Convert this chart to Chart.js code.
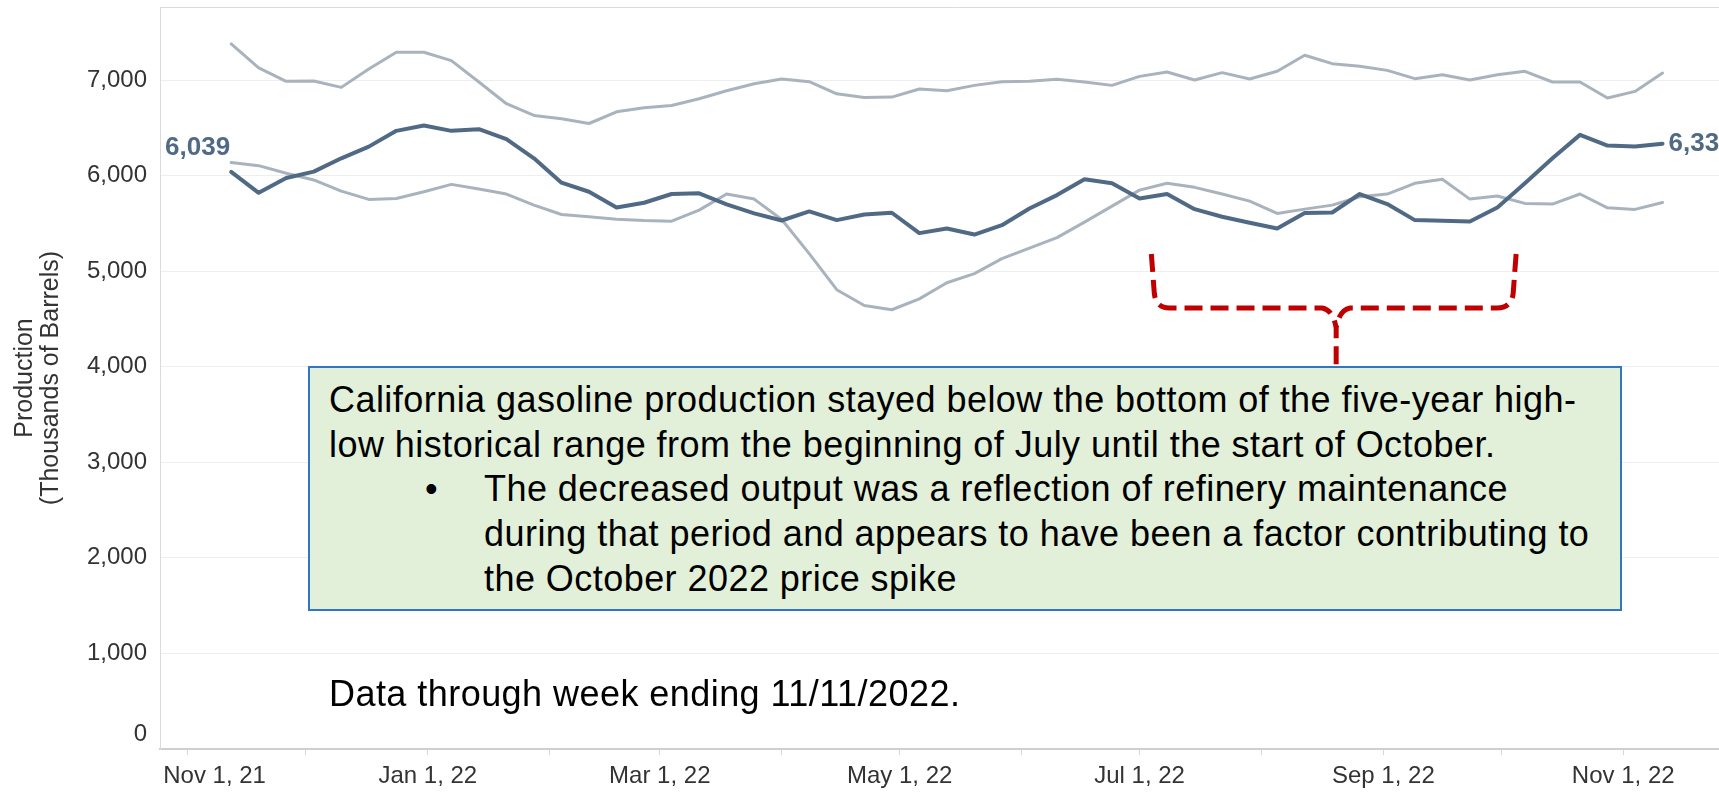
<!DOCTYPE html>
<html>
<head>
<meta charset="utf-8">
<title>California gasoline production</title>
<script src="https://cdn.jsdelivr.net/npm/chart.js@4.4.0/dist/chart.umd.min.js"></script>
<style>
  html, body { margin: 0; padding: 0; background: #fff; overflow: hidden; }
  #wrap { position: relative; width: 1760px; height: 792px; }
  #chart { position: absolute; left: 0; top: 0; }
  .note {
    position: absolute;
    font-family: "Liberation Sans", Arial, sans-serif;
    font-size: 36px;
    letter-spacing: 0.45px;
    line-height: 44.7px;
    color: #000;
    white-space: nowrap;
  }
  #box {
    left: 308px; top: 366px; width: 1314px; height: 245px;
    box-sizing: border-box;
    background: #e2f0d9;
    border: 2px solid #2f78c0;
    padding: 10px 0 0 19px;
  }
  #box .bullet { position: relative; padding-left: 155px; }
  #box .bullet span { position: absolute; left: 96px; top: 0; }
  #through { left: 329px; top: 672px; }
</style>
</head>
<body>
<div id="wrap">
  <canvas id="chart" width="1760" height="792"></canvas>
  <div id="box" class="note">
    <div>California gasoline production stayed below the bottom of the five-year high-</div>
    <div>low historical range from the beginning of July until the start of October.</div>
    <div class="bullet"><span>•</span>The decreased output was a reflection of refinery maintenance<br>during that period and appears to have been a factor contributing to<br>the October 2022 price spike</div>
  </div>
  <div id="through" class="note">Data through week ending 11/11/2022.</div>
</div>
<script>
// Semanas (viernes de cierre)
const weekEnding = [
  '2021-11-12', '2021-11-19', '2021-11-26', '2021-12-03', '2021-12-10', '2021-12-17', '2021-12-24', '2021-12-31',
  '2022-01-07', '2022-01-14', '2022-01-21', '2022-01-28', '2022-02-04', '2022-02-11', '2022-02-18', '2022-02-25',
  '2022-03-04', '2022-03-11', '2022-03-18', '2022-03-25', '2022-04-01', '2022-04-08', '2022-04-15', '2022-04-22',
  '2022-04-29', '2022-05-06', '2022-05-13', '2022-05-20', '2022-05-27', '2022-06-03', '2022-06-10', '2022-06-17',
  '2022-06-24', '2022-07-01', '2022-07-08', '2022-07-15', '2022-07-22', '2022-07-29', '2022-08-05', '2022-08-12',
  '2022-08-19', '2022-08-26', '2022-09-02', '2022-09-09', '2022-09-16', '2022-09-23', '2022-09-30', '2022-10-07',
  '2022-10-14', '2022-10-21', '2022-10-28', '2022-11-04', '2022-11-11'
];

// Producción semanal (miles de barriles)
const production2022 = [
  6039, 5820, 5974, 6041, 6181, 6303, 6468, 6524, 6468, 6486, 6381, 6181, 5926, 5831, 5667, 5716,
  5807, 5814, 5698, 5604, 5530, 5625, 5534, 5593, 5611, 5398, 5446, 5383, 5481, 5656, 5796, 5961,
  5919, 5761, 5807, 5649, 5569, 5506, 5446, 5608, 5614, 5807, 5702, 5534, 5527, 5520, 5667, 5919,
  6181, 6426, 6314, 6304, 6334
];
const fiveYearHigh = [
  7378, 7126, 6986, 6990, 6923, 7116, 7290, 7290, 7203, 6979, 6752, 6629, 6594, 6545, 6667, 6709,
  6734, 6804, 6888, 6961, 7010, 6982, 6856, 6818, 6821, 6906, 6888, 6944, 6982, 6986, 7007, 6979,
  6944, 7038, 7084, 7000, 7077, 7010, 7091, 7259, 7171, 7143, 7101, 7014, 7056, 7000, 7056, 7091,
  6979, 6979, 6811, 6881, 7073
];
const fiveYearLow = [
  6136, 6104, 6024, 5954, 5838, 5751, 5761, 5831, 5908, 5859, 5807, 5691, 5593, 5569, 5544, 5530,
  5523, 5639, 5807, 5754, 5541, 5184, 4806, 4641, 4596, 4710, 4879, 4974, 5131, 5240, 5351, 5513,
  5680, 5848, 5919, 5877, 5807, 5733, 5604, 5649, 5691, 5779, 5807, 5919, 5961, 5754, 5786, 5709,
  5702, 5807, 5663, 5646, 5719
];

// Marcas del eje X (una por mes, etiqueta cada dos)
const monthTicks = [
  '2021-11-01', '2021-12-01', '2022-01-01', '2022-02-01', '2022-03-01', '2022-04-01', '2022-05-01',
  '2022-06-01', '2022-07-01', '2022-08-01', '2022-09-01', '2022-10-01', '2022-11-01'
];
const monthLabels = [
  'Nov 1, 21', '', 'Jan 1, 22', '', 'Mar 1, 22', '', 'May 1, 22', '', 'Jul 1, 22', '', 'Sep 1, 22', '', 'Nov 1, 22'
];
const yTicks = [0, 1000, 2000, 3000, 4000, 5000, 6000, 7000];

// Llave roja de la nota (fechas y valores del eje)
const bracket = { start: '2022-07-04', end: '2022-10-04', mid: '2022-08-20', top: 5180, bar: 4615, tip: 4010 };

const darkColor = '#506a85';
const lightColor = '#a9b3be';
const FONT = '"Liberation Sans", Arial, sans-serif';

const origin = Date.UTC(2021, 10, 1);
const dayOf = s => (Date.parse(s + 'T00:00:00Z') - origin) / 86400000;
const fmt = v => v.toLocaleString('en-US');
const points = values => weekEnding.map((d, i) => ({ x: dayOf(d), y: values[i] }));

// Borde superior del área
const framePlugin = {
  id: 'frame',
  beforeDatasetsDraw(chart) {
    const { ctx, chartArea } = chart;
    ctx.save();
    ctx.strokeStyle = '#dadada';
    ctx.lineWidth = 1;
    ctx.beginPath();
    ctx.moveTo(chartArea.left, chartArea.top + 0.5);
    ctx.lineTo(chartArea.right, chartArea.top + 0.5);
    ctx.stroke();
    ctx.restore();
  }
};

// Etiquetas del primer y último valor
const endLabelsPlugin = {
  id: 'endLabels',
  afterDatasetsDraw(chart) {
    const ctx = chart.ctx;
    const pts = chart.getDatasetMeta(0).data;
    const first = pts[0];
    const last = pts[pts.length - 1];
    ctx.save();
    ctx.font = 'bold 26px ' + FONT;
    ctx.fillStyle = darkColor;
    ctx.textAlign = 'right';
    ctx.textBaseline = 'alphabetic';
    ctx.fillText(fmt(production2022[0]), first.x - 1, first.y - 17);
    ctx.textAlign = 'left';
    ctx.textBaseline = 'middle';
    ctx.fillText(fmt(production2022[production2022.length - 1]), last.x + 6, last.y);
    ctx.restore();
  }
};

// Llave discontinua sobre julio-septiembre
const bracketPlugin = {
  id: 'bracket',
  afterDatasetsDraw(chart) {
    const { ctx, scales } = chart;
    const xL = scales.x.getPixelForValue(dayOf(bracket.start));
    const xR = scales.x.getPixelForValue(dayOf(bracket.end));
    const xM = scales.x.getPixelForValue(dayOf(bracket.mid));
    const yTop = scales.y.getPixelForValue(bracket.top);
    const yBar = scales.y.getPixelForValue(bracket.bar);
    const yTip = scales.y.getPixelForValue(bracket.tip);
    ctx.save();
    ctx.strokeStyle = '#c00000';
    ctx.lineWidth = 5;
    ctx.setLineDash([18, 8]);
    ctx.beginPath();
    ctx.moveTo(xL, yTop);
    ctx.lineTo(xL + 3, yBar - 14);
    ctx.quadraticCurveTo(xL + 5, yBar, xL + 18, yBar);
    ctx.lineTo(xM - 14, yBar);
    ctx.quadraticCurveTo(xM - 3, yBar + 2, xM, yBar + 20);
    ctx.lineTo(xM, yTip);
    ctx.moveTo(xR + 3, yTop);
    ctx.lineTo(xR, yBar - 14);
    ctx.quadraticCurveTo(xR - 2, yBar, xR - 16, yBar);
    ctx.lineTo(xM + 14, yBar);
    ctx.quadraticCurveTo(xM + 3, yBar + 2, xM, yBar + 20);
    ctx.stroke();
    ctx.restore();
  }
};

Chart.defaults.font.family = FONT;
Chart.defaults.color = '#333';

const tickDays = monthTicks.map(dayOf);

new Chart(document.getElementById('chart').getContext('2d'), {
  type: 'line',
  data: {
    datasets: [
      { label: '2022', data: points(production2022), borderColor: darkColor, borderWidth: 4 },
      { label: 'Five-year high', data: points(fiveYearHigh), borderColor: lightColor, borderWidth: 3 },
      { label: 'Five-year low', data: points(fiveYearLow), borderColor: lightColor, borderWidth: 3 }
    ]
  },
  options: {
    responsive: false,
    animation: false,
    events: [],
    layout: { padding: { top: 7, right: 7, left: 0, bottom: 0 } },
    elements: {
      point: { radius: 0 },
      line: { tension: 0, borderJoinStyle: 'round', borderCapStyle: 'round', fill: false }
    },
    plugins: { legend: { display: false }, tooltip: { enabled: false } },
    scales: {
      x: {
        type: 'linear',
        min: -7.1,
        max: 398,
        afterFit: scale => {
          scale.height = 43;
          scale.paddingLeft = 0;
          scale.paddingRight = 0;
        },
        afterBuildTicks: scale => { scale.ticks = tickDays.map(v => ({ value: v })); },
        grid: { drawOnChartArea: false, drawTicks: true, tickLength: 6, color: '#d6d6d6' },
        border: { color: '#cfcfcf', width: 2 },
        ticks: {
          autoSkip: false,
          maxRotation: 0,
          padding: 7,
          font: { size: 24 },
          color: '#333',
          callback: value => {
            const i = tickDays.indexOf(value);
            if (i < 0) return '';
            // primera etiqueta corrida hacia adentro del área
            return i === 0 ? '        ' + monthLabels[i] : monthLabels[i];
          }
        }
      },
      y: {
        min: 0,
        max: 7764,
        afterFit: scale => {
          scale.width = 160;
          scale.paddingTop = 0;
          scale.paddingBottom = 0;
        },
        afterBuildTicks: scale => { scale.ticks = yTicks.map(v => ({ value: v })); },
        grid: { drawTicks: false, color: '#eeeeee', lineWidth: 1 },
        border: { color: '#dadada', width: 1 },
        ticks: {
          padding: 13,
          font: { size: 24 },
          color: '#333',
          callback: value => value === 0 ? ['0', ''] : fmt(value)
        },
        title: {
          display: true,
          text: ['Production', '(Thousands of Barrels)'],
          font: { size: 25, lineHeight: 1.05 },
          color: '#333',
          padding: { top: 12, bottom: 0 }
        }
      }
    }
  },
  plugins: [framePlugin, bracketPlugin, endLabelsPlugin]
});
</script>
</body>
</html>
